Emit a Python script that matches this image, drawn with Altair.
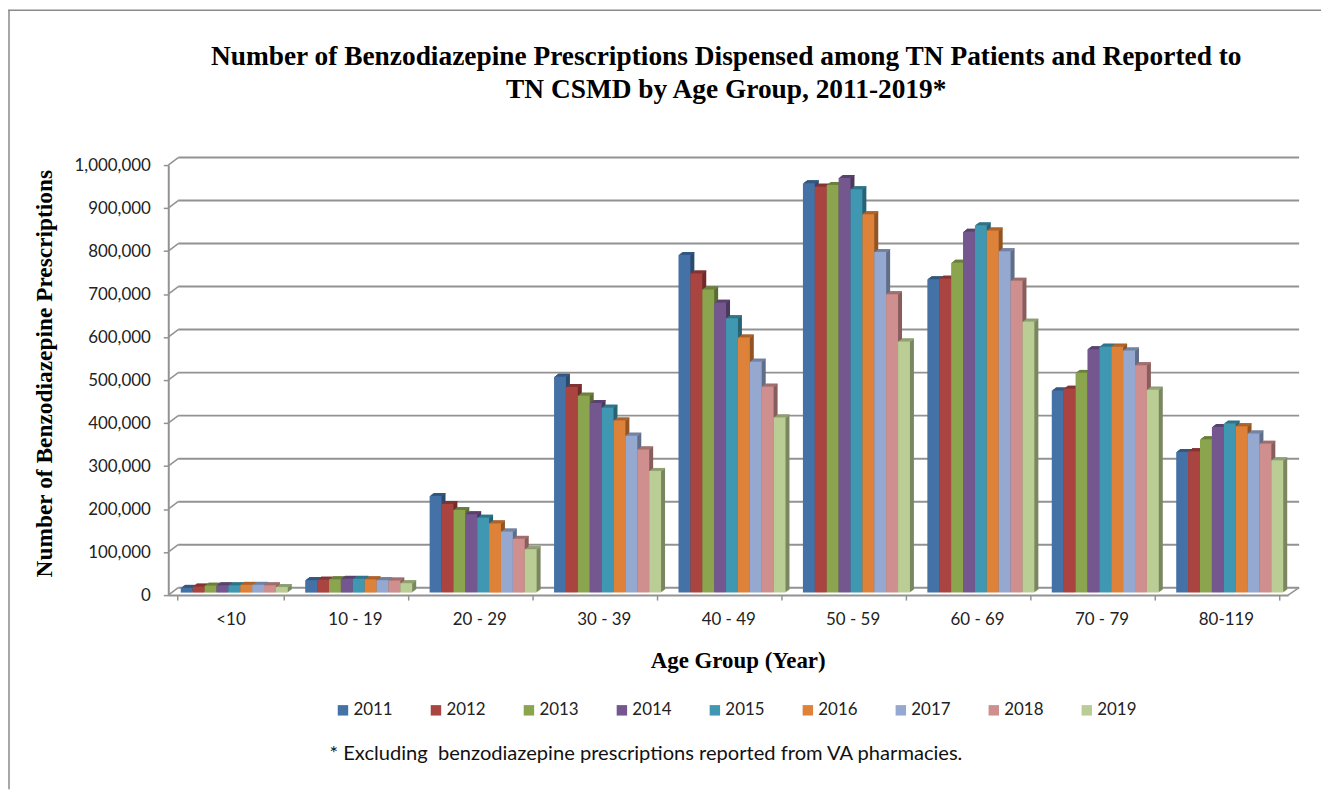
import altair as alt
import pandas as pd

ages = ["<10", "10 - 19", "20 - 29", "30 - 39", "40 - 49", "50 - 59", "60 - 69", "70 - 79", "80-119"]
years = ["2011", "2012", "2013", "2014", "2015", "2016", "2017", "2018", "2019"]
colors = ["#4472A6", "#AA4441", "#8AA54E", "#74578F", "#3F97B1", "#DE8139", "#94A8D0", "#CF8F8E", "#BACD94"]

under10 = [11000, 14000, 16000, 17000, 17000, 18000, 18000, 17000, 13000]
a10_19 = [29000, 30000, 31000, 32000, 32000, 31000, 29000, 28000, 22000]
a20_29 = [224500, 206000, 192000, 182000, 174000, 161000, 142000, 125000, 101000]
a30_39 = [502000, 478000, 458000, 441000, 430000, 400000, 365000, 333000, 283000]
a40_49 = [785000, 742000, 705000, 674000, 638000, 593000, 537000, 479000, 407000]
a50_59 = [952000, 944000, 948000, 964000, 938000, 880000, 792000, 694000, 584000]
a60_69 = [728500, 730000, 767000, 839000, 854000, 842000, 794000, 725000, 630000]
a70_79 = [470000, 474000, 511000, 566000, 572000, 572000, 563000, 529000, 472000]
a80_119 = [327000, 329000, 356500, 385000, 393000, 387000, 370000, 346000, 308000]
series = [under10, a10_19, a20_29, a30_39, a40_49, a50_59, a60_69, a70_79, a80_119]

grid_values = [0, 100000, 200000, 300000, 400000, 500000, 600000, 700000, 800000, 900000, 1000000]
title_lines = ["Number of Benzodiazepine Prescriptions Dispensed among TN Patients and Reported to",
               "TN CSMD by Age Group, 2011-2019*"]
footnote = "* Excluding \u00a0benzodiazepine prescriptions reported from VA pharmacies."


def shade(hex_color, factor):
    r, g, b = (int(hex_color[i:i + 2], 16) for i in (1, 3, 5))
    return "#%02x%02x%02x" % (int(r * factor), int(g * factor), int(b * factor))


rows = []
for age, vals in zip(ages, series):
    for y, c, v in zip(years, colors, vals):
        rows.append({"age": age, "year": y, "v": v, "cap2": v - 2400,
                     "side": shade(c, 0.66), "top": shade(c, 0.82)})
df = pd.DataFrame(rows)

W, H = 1125, 432
GRID = "#929292"
BAND = 107.5
x_scale = alt.Scale(domain=ages, paddingInner=0.14, paddingOuter=0.07)
y_scale = alt.Scale(domain=[0, 1000000], nice=False)
x_axis = alt.Axis(title="Age Group (Year)", labelAngle=0, tickBand="extent", tickSize=5, tickColor=GRID,
                  tickWidth=1.5, domainColor=GRID, domainWidth=2, labelFont="Lato", labelFontSize=17,
                  labelColor="#222222", labelPadding=12, titleFont="Liberation Serif", titleFontSize=23,
                  titleFontWeight="bold", titleColor="#000000", titleX=572, titleY=55)
y_axis = alt.Axis(title="Number of Benzodiazepine Prescriptions", values=grid_values,
                  labelExpr="format(datum.value, ',')", grid=False,
                  tickSize=5, tickColor=GRID, tickWidth=1.5, domainColor=GRID, domainWidth=2,
                  labelFont="Lato", labelFontSize=17, labelColor="#222222", labelPadding=13,
                  titleFont="Liberation Serif", titleFontSize=23.5, titleFontWeight="bold",
                  titleColor="#000000", titleX=-112, titleY=209, titleAngle=-90)

X = alt.X("age:N", scale=x_scale, axis=x_axis, sort=ages)
Y = alt.Y("v:Q", scale=y_scale, axis=y_axis)


def offset(o):
    return alt.XOffset("year:N", sort=years, scale=alt.Scale(domain=years, range=[o, o + BAND]))


grid_df = pd.DataFrame({"v": grid_values})
back = alt.Chart(grid_df).mark_rule(color=GRID, strokeWidth=2, yOffset=-7.5).encode(
    y=Y, x=alt.value(10), x2=alt.value(W + 11))
diag = alt.Chart(grid_df).mark_rule(color=GRID, strokeWidth=1.5, y2Offset=-7.5).encode(
    y=Y, y2=alt.Y2("v:Q"), x=alt.value(0), x2=alt.value(10))
diag_r = alt.Chart(grid_df[grid_df.v == 0]).mark_rule(color=GRID, strokeWidth=1.5, y2Offset=-7.5).encode(
    y=Y, y2=alt.Y2("v:Q"), x=alt.value(W), x2=alt.value(W + 11))

BX, BY = 3.8, -2.5
layers = [back, diag, diag_r]
for k in [4, 3, 2, 1]:
    dx, dy = BX + k, BY - 0.75 * k
    layers.append(alt.Chart(df).mark_bar(yOffset=dy, y2Offset=dy).encode(
        x=X, xOffset=offset(dx), y=Y, color=alt.Color("side:N", scale=None)))
    layers.append(alt.Chart(df).mark_bar(yOffset=dy, y2Offset=dy).encode(
        x=X, xOffset=offset(dx), y=Y, y2=alt.Y2("cap2:Q"), color=alt.Color("top:N", scale=None)))

front = alt.Chart(df).mark_bar(yOffset=BY, y2Offset=BY).encode(
    x=X, xOffset=offset(BX), y=Y,
    color=alt.Color("year:N", scale=alt.Scale(domain=years, range=colors),
                    legend=alt.Legend(title=None, orient="none", legendX=167, legendY=539, direction="horizontal",
                                      columns=9, symbolType="square", symbolSize=110, symbolStrokeWidth=0,
                                      labelFont="Lato", labelFontSize=17, labelColor="#222222", labelOffset=2,
                                      columnPadding=34.4)))
layers.append(front)

note = alt.Chart(pd.DataFrame({"note": [footnote]})).mark_text(
    align="left", baseline="middle", font="Lato", fontSize=20.2, color="#111111").encode(
    x=alt.value(162), y=alt.value(592), text="note:N")
frame_l = alt.Chart(pd.DataFrame({"a": [0]})).mark_rule(color="#8a8a8a", strokeWidth=1.5).encode(
    x=alt.value(-160), y=alt.value(-155.5), y2=alt.value(627))
frame_t = alt.Chart(pd.DataFrame({"a": [0]})).mark_rule(color="#8a8a8a", strokeWidth=1.5).encode(
    y=alt.value(-155.5), x=alt.value(-161), x2=alt.value(1158))
layers += [note, frame_l, frame_t]

chart = alt.layer(*layers).resolve_scale(xOffset="independent").properties(
    width=W, height=H,
    title=alt.TitleParams(text=title_lines, font="Liberation Serif", fontSize=27.5, fontWeight="bold",
                          color="#000000", anchor="middle", frame="group", offset=-94, lineHeight=33, dx=-2),
    autosize=alt.AutoSizeParams(type="none"),
    padding={"left": 161, "top": 156, "right": 35, "bottom": 195},
    background="white",
).configure_view(stroke=None)

chart.save("out.html", embed_options={"renderer": "svg", "actions": False})
